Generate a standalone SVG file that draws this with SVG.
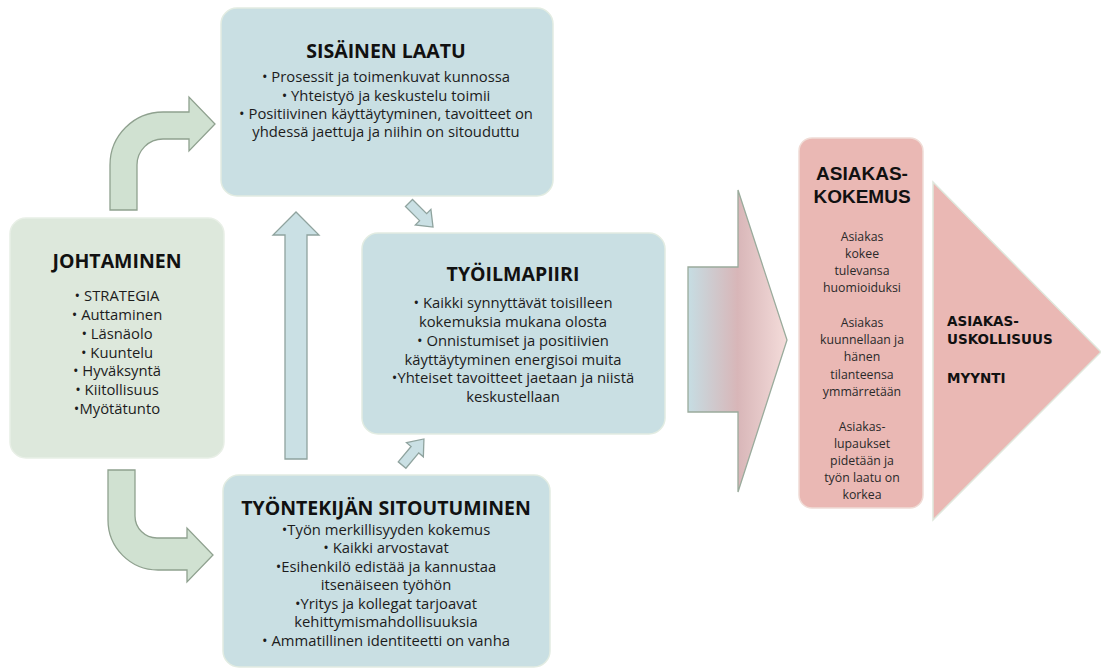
<svg xmlns="http://www.w3.org/2000/svg" width="1101" height="668" viewBox="0 0 1101 668">
  <defs>
    <linearGradient id="bigArrowFill" x1="0" y1="0" x2="1" y2="0">
      <stop offset="0" stop-color="#c6dde3"/>
      <stop offset="0.5" stop-color="#d8b6b8"/>
      <stop offset="1" stop-color="#f4dcda"/>
    </linearGradient>
    <style>
      .box-blue { fill: #c9dfe3; stroke: #e2ece2; stroke-width: 1.5; }
      .box-green { fill: #dde8dc; stroke: #e8efe6; stroke-width: 1.5; }
      .box-pink { fill: #eab8b4; stroke: #f0dcd6; stroke-width: 1.5; }
      .arrow-green { fill: #d0e1d1; stroke: #8fa18f; stroke-width: 1.3; }
      .arrow-blue { fill: #cae0e4; stroke: #8fa39e; stroke-width: 1.3; }
      .title { font-family: "Open Sans", "Liberation Sans", sans-serif; font-weight: bold; font-size: 19.5px; fill: #111; text-anchor: middle; }
      .title-narrow { font-family: "Liberation Sans", Arial, sans-serif; font-weight: bold; font-size: 19px; fill: #111; text-anchor: middle; }
      .body { font-family: "Open Sans", "Liberation Sans", sans-serif; font-size: 14.8px; fill: #1c1c1c; text-anchor: middle; }
      .small { font-family: "Open Sans", "Liberation Sans", sans-serif; font-size: 12.3px; fill: #2a2a2a; text-anchor: middle; }
      .outcome { font-family: "DejaVu Sans", "Liberation Sans", sans-serif; font-weight: bold; font-size: 13.5px; fill: #111; }
    </style>
  </defs>

  <rect width="1101" height="668" fill="#ffffff"/>

  <!-- connectors -->
  <g id="connectors">
    <!-- bent arrow: leadership up to internal quality -->
    <path class="arrow-green" d="M110,210 L110,165 A53,53 0 0 1 163,112 L189,112 L189,97 L215,124 L189,151 L189,139 L163,139 A26,26 0 0 0 137,165 L137,210 Z"/>
    <!-- bent arrow: leadership down to employee commitment -->
    <path class="arrow-green" d="M108,470 L135,470 L135,516 A22,22 0 0 0 157,538 L187,538 L187,528 L213,555 L187,582 L187,570 L158,570 A50,50 0 0 1 108,520 Z"/>
    <!-- tall arrow: commitment up to internal quality -->
    <path class="arrow-blue" d="M285,459 L285,235 L273,235 L296,212 L319,235 L307,235 L307,459 Z"/>
    <!-- small arrow: internal quality to work climate -->
    <path class="arrow-blue" transform="translate(421,215) rotate(45)" d="M-17,-5 L3,-5 L3,-11 L17,0 L3,11 L3,5 L-17,5 Z"/>
    <!-- small arrow: commitment to work climate -->
    <path class="arrow-blue" transform="translate(413,452) rotate(-50)" d="M-17,-5 L3,-5 L3,-11 L17,0 L3,11 L3,5 L-17,5 Z"/>
    <!-- big arrow: work climate to customer experience -->
    <path fill="url(#bigArrowFill)" stroke="#9aab9c" stroke-width="1.3" d="M688,267 L738,267 L738,190 L787,340 L738,492 L738,412 L688,412 Z"/>
  </g>

  <g id="node-johtaminen">
    <rect class="box-green" x="10" y="218" width="214" height="240" rx="16"/>
    <text class="title" x="117" y="268">JOHTAMINEN</text>
    <text class="body" x="117" y="301">•  STRATEGIA</text>
    <text class="body" x="117" y="320">• Auttaminen</text>
    <text class="body" x="117" y="339">• Läsnäolo</text>
    <text class="body" x="117" y="358">• Kuuntelu</text>
    <text class="body" x="117" y="376">• Hyväksyntä</text>
    <text class="body" x="117" y="395">• Kiitollisuus</text>
    <text class="body" x="117" y="414">•Myötätunto</text>
  </g>

  <g id="node-sisainen-laatu">
    <rect class="box-blue" x="221" y="8" width="332" height="188" rx="16"/>
    <text class="title" x="386" y="58">SISÄINEN LAATU</text>
    <text class="body" x="386" y="82">•  Prosessit ja toimenkuvat kunnossa</text>
    <text class="body" x="386" y="101">• Yhteistyö ja keskustelu toimii</text>
    <text class="body" x="386" y="119">• Positiivinen käyttäytyminen, tavoitteet on</text>
    <text class="body" x="386" y="137">yhdessä jaettuja ja niihin on sitouduttu</text>
  </g>

  <g id="node-tyoilmapiiri">
    <rect class="box-blue" x="362" y="233" width="303" height="201" rx="16"/>
    <text class="title" x="513" y="281">TYÖILMAPIIRI</text>
    <text class="body" x="513" y="308">•  Kaikki synnyttävät toisilleen</text>
    <text class="body" x="513" y="327">kokemuksia mukana olosta</text>
    <text class="body" x="513" y="346">•  Onnistumiset ja positiivien</text>
    <text class="body" x="513" y="365">käyttäytyminen energisoi muita</text>
    <text class="body" x="513" y="383">•Yhteiset tavoitteet jaetaan ja niistä</text>
    <text class="body" x="513" y="402">keskustellaan</text>
  </g>

  <g id="node-sitoutuminen">
    <rect class="box-blue" x="223" y="475" width="327" height="192" rx="16"/>
    <text class="title" x="386" y="515">TYÖNTEKIJÄN SITOUTUMINEN</text>
    <text class="body" x="386" y="535">•Työn merkillisyyden kokemus</text>
    <text class="body" x="386" y="553">•  Kaikki arvostavat</text>
    <text class="body" x="386" y="572">•Esihenkilö edistää ja kannustaa</text>
    <text class="body" x="386" y="590">itsenäiseen työhön</text>
    <text class="body" x="386" y="609">•Yritys ja kollegat tarjoavat</text>
    <text class="body" x="386" y="627">kehittymismahdollisuuksia</text>
    <text class="body" x="386" y="646">•  Ammatillinen identiteetti on vanha</text>
  </g>

  <g id="node-asiakaskokemus">
    <rect class="box-pink" x="799" y="138" width="124" height="370" rx="13"/>
    <text class="title-narrow" x="862" y="180">ASIAKAS-</text>
    <text class="title-narrow" x="862" y="203">KOKEMUS</text>
    <text class="small" x="862" y="241">Asiakas</text>
    <text class="small" x="862" y="258">kokee</text>
    <text class="small" x="862" y="275">tulevansa</text>
    <text class="small" x="862" y="292">huomioiduksi</text>
    <text class="small" x="862" y="327">Asiakas</text>
    <text class="small" x="862" y="344">kuunnellaan ja</text>
    <text class="small" x="862" y="361">hänen</text>
    <text class="small" x="862" y="379">tilanteensa</text>
    <text class="small" x="862" y="396">ymmärretään</text>
    <text class="small" x="862" y="431">Asiakas-</text>
    <text class="small" x="862" y="448">lupaukset</text>
    <text class="small" x="862" y="465">pidetään ja</text>
    <text class="small" x="862" y="482">työn laatu on</text>
    <text class="small" x="862" y="499">korkea</text>
  </g>

  <g id="node-uskollisuus">
    <path d="M933,182 L1101,352 L933,520 Z" fill="#eab8b4" stroke="#dfe7dc" stroke-width="1.5"/>
    <text class="outcome" x="947" y="326">ASIAKAS-</text>
    <text class="outcome" x="947" y="344">USKOLLISUUS</text>
    <text class="outcome" x="947" y="383">MYYNTI</text>
  </g>
</svg>
